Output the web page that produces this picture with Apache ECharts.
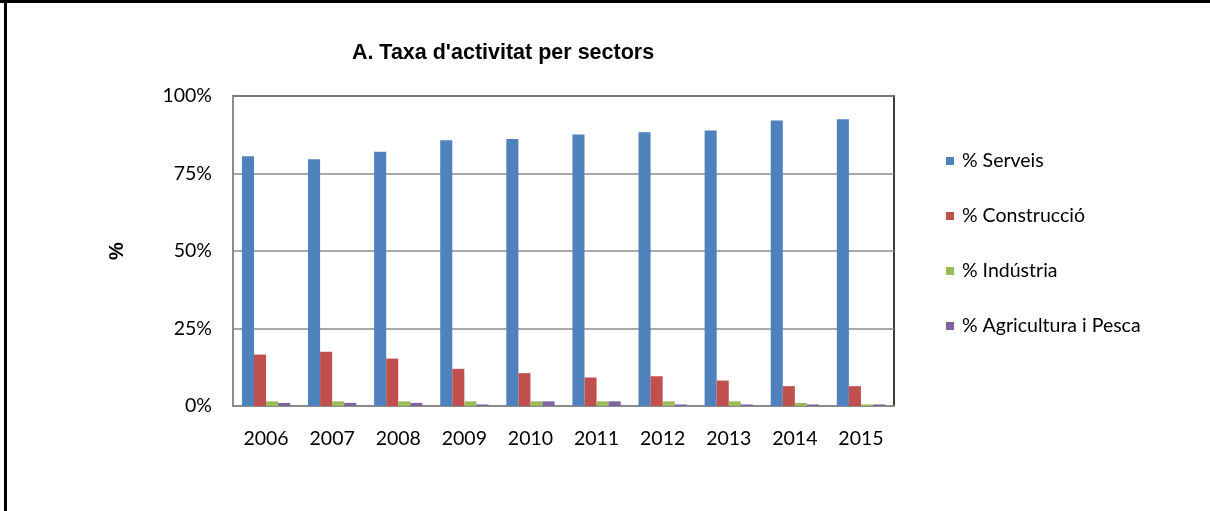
<!DOCTYPE html>
<html>
<head>
<meta charset="utf-8">
<script src="https://cdn.jsdelivr.net/npm/echarts@6/dist/echarts.min.js"></script>
<style>
html,body{margin:0;padding:0;background:#fff;}
#c{width:1210px;height:511px;}
</style>
</head>
<body>
<div id="c"></div>
<script>
const years = ['2006','2007','2008','2009','2010','2011','2012','2013','2014','2015'];
const seriesNames = ['% Serveis','% Construcció','% Indústria','% Agricultura i Pesca'];
const serveis      = [80.6, 79.6, 82.0, 85.7, 86.1, 87.6, 88.3, 88.9, 92.1, 92.5];
const construccio  = [16.6, 17.5, 15.3, 12.0, 10.6, 9.2, 9.6, 8.2, 6.4, 6.4];
const industria    = [1.5, 1.5, 1.5, 1.5, 1.5, 1.5, 1.5, 1.5, 1.0, 0.5];
const agricultura  = [1.0, 1.0, 1.0, 0.5, 1.5, 1.5, 0.5, 0.5, 0.5, 0.5];
const yTicks = [0, 25, 50, 75, 100];
const colors = ['#4F81BD','#C0504D','#9BBB59','#8064A2'];

const chart = echarts.init(document.getElementById('c'), null, {renderer:'canvas'});
const dataSets = [serveis, construccio, industria, agricultura];
const font = 'Lato, "Open Sans", sans-serif';

chart.setOption({
  animation: false,
  backgroundColor: '#fff',
  color: colors,
  title: {
    text: "A. Taxa d'activitat per sectors",
    left: 498, top: 37, textAlign: 'center',
    textStyle: {fontFamily: '"Liberation Sans Narrow", "Liberation Sans", Arial, sans-serif', fontWeight: 'bold', fontSize: 21.5, color: '#000'}
  },
  legend: {
    orient: 'vertical',
    left: 941, top: 146,
    itemWidth: 8, itemHeight: 8, itemGap: 35,
    icon: 'rect',
    textStyle: {fontFamily: font, fontSize: 19.5, color: '#000', padding: [0,0,0,3]},
    data: seriesNames
  },
  grid: {
    left: 233, right: 316, top: 96, bottom: 105,
    show: true, borderColor: '#000', borderWidth: 1.5, backgroundColor: 'transparent'
  },
  xAxis: {
    type: 'category',
    data: years,
    axisLine: {show: true, lineStyle: {color: '#8c8c8c', width: 2}},
    axisTick: {show: false},
    axisLabel: {fontFamily: font, fontSize: 19.5, color: '#000', margin: 23}
  },
  yAxis: {
    type: 'value',
    min: yTicks[0], max: yTicks[yTicks.length-1], interval: yTicks[1]-yTicks[0],
    name: '%',
    nameLocation: 'middle',
    nameGap: 106,
    nameRotate: 90,
    nameTextStyle: {fontFamily: '"Liberation Sans", Arial, sans-serif', fontWeight: 'bold', fontSize: 20, color: '#000'},
    axisLine: {show: true, lineStyle: {color: '#8c8c8c', width: 2}},
    axisTick: {show: false},
    splitLine: {show: true, lineStyle: {color: '#8c8c8c', width: 1.5}},
    axisLabel: {fontFamily: font, fontSize: 19.5, color: '#000', margin: 21, formatter: '{value}%'}
  },
  series: seriesNames.map((n, i) => ({
    name: n,
    type: 'bar',
    data: dataSets[i],
    barGap: '0%',
    barCategoryGap: '27%',
    itemStyle: {color: colors[i]}
  })),
  graphic: [
    {type: 'rect', shape: {x: 0, y: 0, width: 1210, height: 3}, style: {fill: '#000'}},
    {type: 'rect', shape: {x: 4, y: 0, width: 3, height: 511}, style: {fill: '#000'}}
  ]
});
</script>
</body>
</html>
